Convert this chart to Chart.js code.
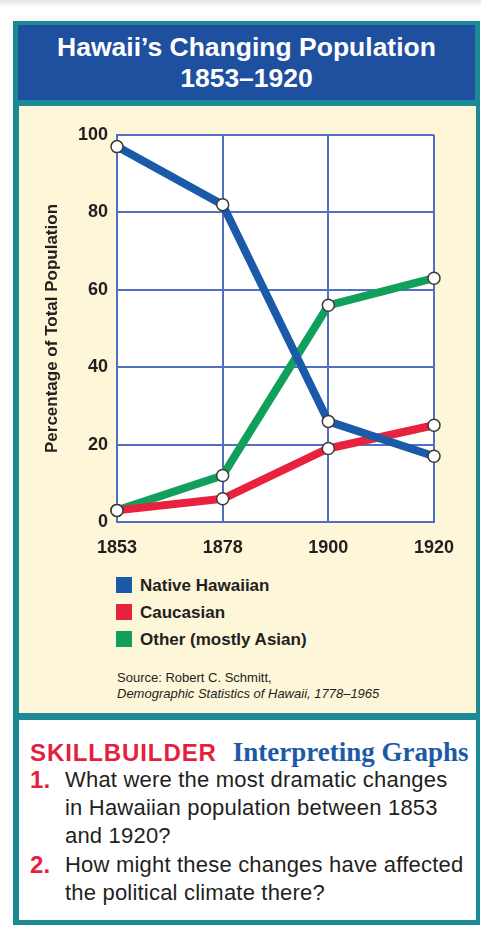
<!DOCTYPE html>
<html>
<head>
<meta charset="utf-8">
<script src="https://cdn.jsdelivr.net/npm/chart.js@4"></script>
<style>
  html, body { margin: 0; padding: 0; }
  body {
    width: 481px; height: 928px; overflow: hidden; position: relative;
    background: linear-gradient(#e4e4e4 0px, #ffffff 7px);
    font-family: 'Liberation Sans', Arial, sans-serif; color: #231f20;
  }
  .frame { position: absolute; left: 13px; top: 21px; width: 467px; height: 904px; background: #1b8a94; }
  .title-band {
    position: absolute; left: 18px; top: 25px; width: 457px; height: 75px; background: #1f4f9f;
  }
  .title-band .txt {
    position: absolute; left: 0; right: 0; top: 7px; text-align: center; color: #fff;
    font-weight: bold; font-size: 26.5px; line-height: 31px;
  }
  .panel { position: absolute; left: 19px; top: 106px; width: 457px; height: 607px; background: #fdf6d8; }
  .bottom { position: absolute; left: 19px; top: 720px; width: 457px; height: 200px; background: #fff; }
  #chart { position: absolute; left: 20px; top: 106px; }
  .legend { position: absolute; left: 116px; top: 572px; }
  .legend .item { height: 27px; line-height: 27px; font-weight: bold; font-size: 17px; white-space: nowrap; }
  .legend .box { display: inline-block; width: 16px; height: 16px; vertical-align: -2px; margin-right: 8px; }
  .source { position: absolute; left: 117px; top: 670px; font-size: 13px; line-height: 16px; }
  .skill { position: absolute; left: 30px; top: 737px; line-height: 30px; white-space: nowrap; }
  .skill .a { color: #e41f3f; font-weight: bold; font-size: 24px; letter-spacing: 0.9px; }
  .skill .b { color: #1d5aa6; font-weight: bold; font-size: 27px; font-family: 'Liberation Serif', 'Times New Roman', serif; margin-left: 16px; }
  .q { position: absolute; left: 30px; font-size: 22px; line-height: 28px; letter-spacing: 0.2px; white-space: nowrap; }
  .q .n { position: absolute; left: 0; top: 0; color: #e41f3f; font-weight: bold; font-size: 24px; }
  .q .t { margin-left: 35px; color: #231f20; }
</style>
</head>
<body>
<div class="frame"></div>
<div class="title-band"><div class="txt">Hawaii’s Changing Population<br>1853–1920</div></div>
<div class="panel"></div>
<div class="bottom"></div>
<canvas id="chart" width="456" height="460"></canvas>
<div class="legend" id="legend"></div>
<div class="source">Source: Robert C. Schmitt,<br><i>Demographic Statistics of Hawaii, 1778–1965</i></div>
<div class="skill"><span class="a">SKILLBUILDER</span><span class="b">Interpreting Graphs</span></div>
<div class="q" style="top:766px"><span class="n">1.</span><div class="t">What were the most dramatic changes<br>in Hawaiian population between 1853<br>and 1920?</div></div>
<div class="q" style="top:851px"><span class="n">2.</span><div class="t">How might these changes have affected<br>the political climate there?</div></div>

<script>
// Dữ liệu biểu đồ
const years = ['1853', '1878', '1900', '1920'];
const seriesNames = ['Native Hawaiian', 'Caucasian', 'Other (mostly Asian)'];
const seriesColors = ['#1a5aa9', '#e8213f', '#10a05c'];
const nativeHawaiian = [97, 82, 26, 17];
const caucasian = [3, 6, 19, 25];
const otherAsian = [3, 12, 56, 63];
const yTicks = [0, 20, 40, 60, 80, 100];

const seriesValues = [nativeHawaiian, caucasian, otherAsian];
const gridColor = '#5170c4';
const textColor = '#231f20';

// Nền trắng cho vùng biểu đồ
const plotBg = {
    id: 'plotBg',
    beforeDraw(chart) {
        const a = chart.chartArea;
        const ctx = chart.ctx;
        ctx.save();
        ctx.fillStyle = '#ffffff';
        ctx.fillRect(a.left, a.top, a.right - a.left, a.bottom - a.top);
        ctx.restore();
    }
};

const datasets = seriesValues.map((vals, i) => ({
    label: seriesNames[i],
    data: vals,
    borderColor: seriesColors[i],
    backgroundColor: seriesColors[i],
    borderWidth: 8,
    borderJoinStyle: 'round',
    borderCapStyle: 'round',
    tension: 0,
    pointRadius: 6,
    pointBorderWidth: 1.5,
    pointBorderColor: '#3a3a3a',
    pointBackgroundColor: '#ffffff',
    clip: false
}));

new Chart(document.getElementById('chart').getContext('2d'), {
    type: 'line',
    data: { labels: years, datasets: datasets },
    options: {
        responsive: false,
        animation: false,
        layout: { padding: { top: 29, right: 42, bottom: 0, left: 0 } },
        plugins: { legend: { display: false }, tooltip: { enabled: false } },
        scales: {
            x: {
                grid: { color: gridColor, lineWidth: 2, drawTicks: false },
                border: { color: gridColor, width: 2 },
                ticks: { color: textColor, font: { family: 'Liberation Sans', size: 18, weight: 'bold' }, padding: 15, maxRotation: 0 },
                afterFit(s) { s.height = 44; }
            },
            y: {
                min: 0, max: 100,
                afterBuildTicks(s) { s.ticks = yTicks.map(v => ({ value: v })); },
                grid: { color: gridColor, lineWidth: 2, drawTicks: false },
                border: { color: gridColor, width: 2 },
                ticks: { color: textColor, font: { family: 'Liberation Sans', size: 18, weight: 'bold' }, padding: 9 },
                title: {
                    display: true, text: 'Percentage of Total Population', color: textColor,
                    font: { family: 'Liberation Sans', size: 17, weight: 'bold' }, padding: { top: 22, bottom: 0 }
                },
                afterFit(s) { s.width = 97; }
            }
        }
    },
    plugins: [plotBg]
});

// Chú giải
const legend = document.getElementById('legend');
seriesNames.forEach((name, i) => {
    const item = document.createElement('div');
    item.className = 'item';
    item.innerHTML = `<span class="box" style="background:${seriesColors[i]}"></span>${name}`;
    legend.appendChild(item);
});
</script>
</body>
</html>
